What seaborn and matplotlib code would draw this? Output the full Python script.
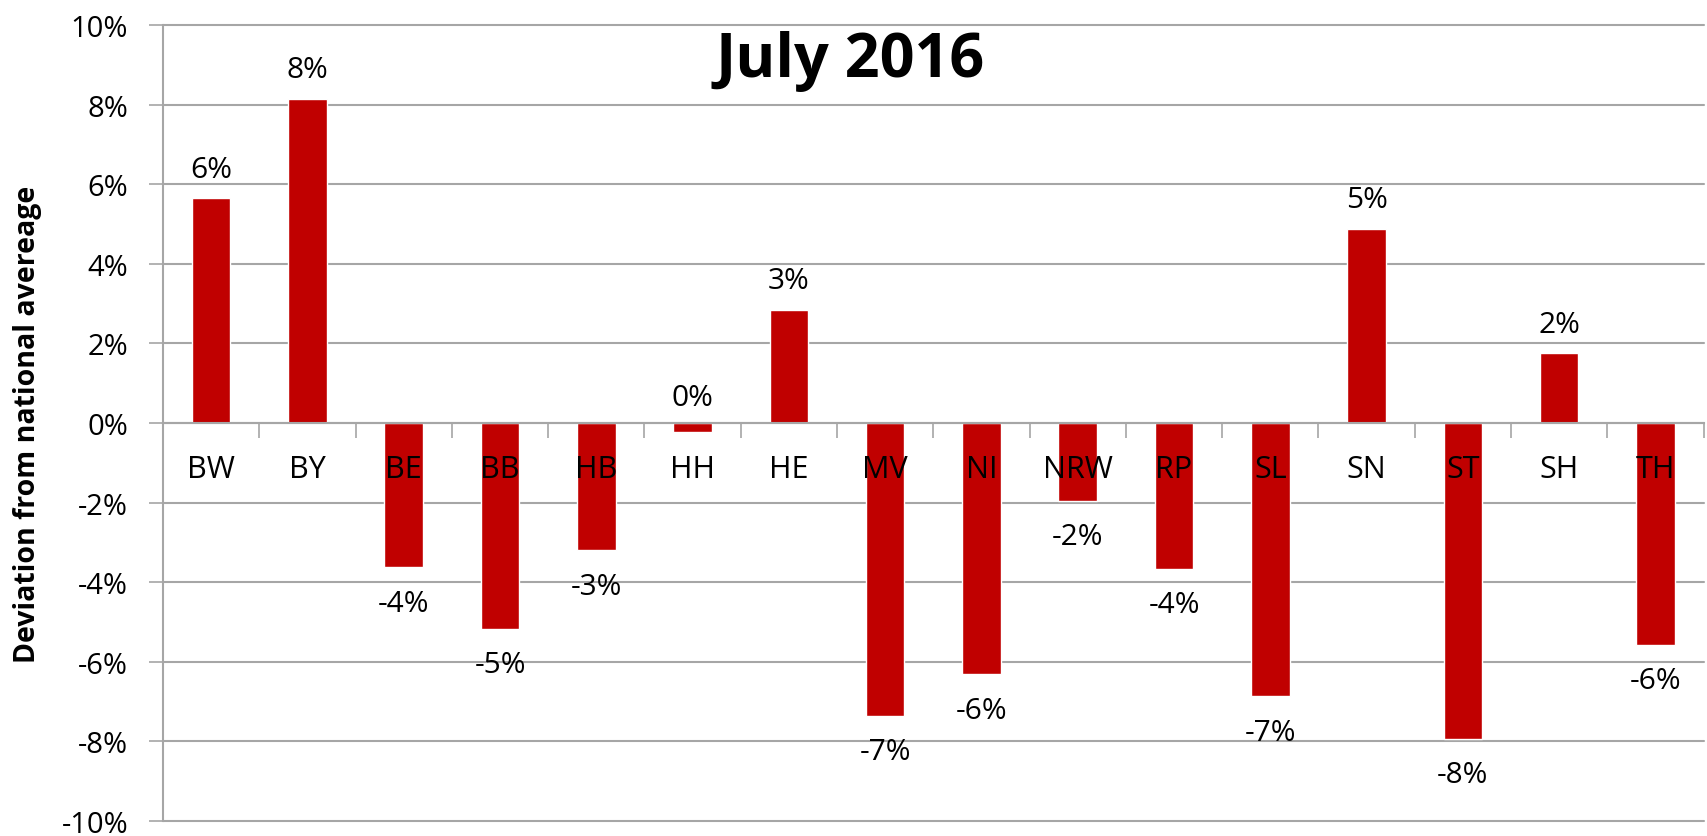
import matplotlib
matplotlib.use("Agg")
import matplotlib.pyplot as plt
import seaborn as sns
import pandas as pd
from matplotlib.ticker import FixedLocator, FuncFormatter

states = ["BW", "BY", "BE", "BB", "HB", "HH", "HE", "MV", "NI", "NRW",
          "RP", "SL", "SN", "ST", "SH", "TH"]
deviation = [5.64, 8.15, -3.63, -5.17, -3.20, -0.23, 2.85, -7.36, -6.31, -1.95,
             -3.66, -6.87, 4.87, -7.93, 1.75, -5.57]
title_text = "July 2016"
ylabel_text = "Deviation from national avereage"

sns.set_theme(style="white")
plt.rcParams["font.family"] = ["Open Sans", "DejaVu Sans"]
plt.rcParams["text.color"] = "black"
plt.rcParams["axes.labelcolor"] = "black"
plt.rcParams["xtick.color"] = "black"
plt.rcParams["ytick.color"] = "black"

df = pd.DataFrame({"state": states, "dev": deviation})

fig = plt.figure(figsize=(17.07, 8.37), dpi=100)
ax = fig.add_axes([0.0955, 0.018, 0.9025, 0.951])

grid_c = "#A6A6A6"
bar_c = "#C00000"

sns.barplot(data=df, x="state", y="dev", color=bar_c, width=0.4,
            saturation=1, ax=ax, zorder=3)

ax.set_ylim(-10, 10)
ax.set_xlim(-0.5, len(states) - 0.5)
ax.set_yticks(range(-10, 11, 2))
ax.yaxis.set_major_formatter(FuncFormatter(lambda v, p: f"{int(v)}%"))
ax.yaxis.grid(True, color=grid_c, linewidth=1.5, zorder=0)
for gl in ax.get_ygridlines():
    gl.set_clip_on(False)
ax.tick_params(axis="y", which="major", length=10, width=1.2, color=grid_c,
               direction="out", labelsize=21, pad=15, left=True,
               labelcolor="black")

# x axis at zero with category boundary ticks
ax.spines["bottom"].set_position(("data", 0))
ax.spines["bottom"].set_color(grid_c)
ax.spines["bottom"].set_linewidth(1.5)
ax.spines["bottom"].set_zorder(4)
ax.spines["left"].set_color(grid_c)
ax.spines["left"].set_linewidth(1.5)
ax.spines["top"].set_visible(False)
ax.spines["right"].set_visible(False)
ax.xaxis.set_minor_locator(FixedLocator([i - 0.5 for i in range(len(states) + 1)]))
ax.tick_params(axis="x", which="minor", length=11, width=1.2, color=grid_c,
               direction="out", bottom=True)
ax.tick_params(axis="x", which="major", length=0, labelbottom=False)
ax.set_xlabel("")

# category labels drawn above the bars
for i, s in enumerate(states):
    ax.annotate(s, (i, 0), xytext=(0, -33), textcoords="offset points",
                ha="center", va="center", fontsize=22, color="black",
                zorder=6)

ax.set_ylabel(ylabel_text, fontsize=20.5, fontweight="bold", labelpad=14,
              color="black")

# data labels
for i, v in enumerate(deviation):
    r = int(round(v))
    txt = f"{r}%"
    if r == 0:
        ax.annotate(txt, (i, 0), xytext=(0, 18), textcoords="offset points",
                    ha="center", va="center", fontsize=21.5)
    elif v > 0:
        ax.annotate(txt, (i, v), xytext=(0, 21), textcoords="offset points",
                    ha="center", va="center", fontsize=21.5)
    else:
        ax.annotate(txt, (i, v), xytext=(0, -26), textcoords="offset points",
                    ha="center", va="center", fontsize=21.5)

ax.text(0.446, 0.955, title_text, transform=ax.transAxes, ha="center",
        va="center", fontsize=44, fontweight="bold", color="black")

fig.savefig("out.png", dpi=100)
